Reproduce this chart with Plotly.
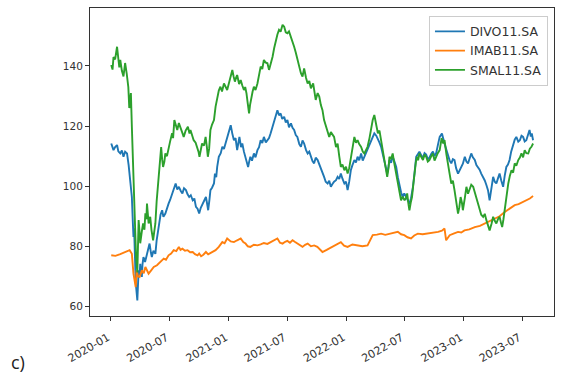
import plotly.graph_objects as go

# DIVO11.SA closing prices
divo_dates = [
    "2020-01-02", "2020-01-06", "2020-01-09", "2020-01-14", "2020-01-20", "2020-01-24", "2020-01-30",
    "2020-02-04", "2020-02-09", "2020-02-14", "2020-02-20", "2020-02-25", "2020-02-28", "2020-03-03",
    "2020-03-06", "2020-03-09", "2020-03-11", "2020-03-13", "2020-03-16", "2020-03-18", "2020-03-23",
    "2020-03-25", "2020-03-27", "2020-03-30", "2020-04-01", "2020-04-03", "2020-04-06", "2020-04-08",
    "2020-04-11", "2020-04-16", "2020-04-22", "2020-04-27", "2020-04-30", "2020-05-04", "2020-05-07",
    "2020-05-12", "2020-05-18", "2020-05-22", "2020-05-28", "2020-06-03", "2020-06-08", "2020-06-12",
    "2020-06-18", "2020-06-23", "2020-06-28", "2020-07-03", "2020-07-09", "2020-07-14", "2020-07-20",
    "2020-07-25", "2020-07-30", "2020-08-05", "2020-08-10", "2020-08-15", "2020-08-21", "2020-08-26",
    "2020-08-31", "2020-09-05", "2020-09-11", "2020-09-16", "2020-09-21", "2020-09-26", "2020-10-01",
    "2020-10-06", "2020-10-12", "2020-10-17", "2020-10-22", "2020-10-26", "2020-10-29", "2020-11-02",
    "2020-11-05", "2020-11-10", "2020-11-16", "2020-11-19", "2020-11-23", "2020-11-26", "2020-12-01",
    "2020-12-07", "2020-12-12", "2020-12-17", "2020-12-22", "2020-12-28", "2021-01-01", "2021-01-07",
    "2021-01-12", "2021-01-17", "2021-01-22", "2021-01-27", "2021-01-31", "2021-02-03", "2021-02-08",
    "2021-02-12", "2021-02-17", "2021-02-22", "2021-02-26", "2021-03-02", "2021-03-05", "2021-03-09",
    "2021-03-14", "2021-03-20", "2021-03-25", "2021-03-31", "2021-04-05", "2021-04-10", "2021-04-15",
    "2021-04-20", "2021-04-26", "2021-05-01", "2021-05-06", "2021-05-11", "2021-05-16", "2021-05-21",
    "2021-05-26", "2021-06-01", "2021-06-06", "2021-06-11", "2021-06-16", "2021-06-22", "2021-06-27",
    "2021-07-02", "2021-07-07", "2021-07-13", "2021-07-18", "2021-07-23", "2021-07-28", "2021-08-02",
    "2021-08-08", "2021-08-13", "2021-08-18", "2021-08-23", "2021-08-29", "2021-09-03", "2021-09-08",
    "2021-09-13", "2021-09-18", "2021-09-23", "2021-09-28", "2021-10-04", "2021-10-09", "2021-10-14",
    "2021-10-19", "2021-10-24", "2021-10-29", "2021-11-04", "2021-11-09", "2021-11-14", "2021-11-19",
    "2021-11-24", "2021-11-30", "2021-12-05", "2021-12-10", "2021-12-15", "2021-12-20", "2021-12-26",
    "2021-12-31", "2022-01-05", "2022-01-10", "2022-01-15", "2022-01-20", "2022-01-26", "2022-01-31",
    "2022-02-05", "2022-02-10", "2022-02-16", "2022-02-21", "2022-02-26", "2022-03-03", "2022-03-08",
    "2022-03-14", "2022-03-19", "2022-03-24", "2022-03-29", "2022-04-04", "2022-04-09", "2022-04-14",
    "2022-04-19", "2022-04-24", "2022-04-29", "2022-05-04", "2022-05-08", "2022-05-12", "2022-05-15",
    "2022-05-20", "2022-05-25", "2022-05-30", "2022-06-05", "2022-06-10", "2022-06-15", "2022-06-20",
    "2022-06-25", "2022-06-30", "2022-07-06", "2022-07-11", "2022-07-16", "2022-07-21", "2022-07-27",
    "2022-08-01", "2022-08-06", "2022-08-11", "2022-08-16", "2022-08-22", "2022-08-27", "2022-09-01",
    "2022-09-06", "2022-09-11", "2022-09-16", "2022-09-22", "2022-09-27", "2022-10-02", "2022-10-07",
    "2022-10-12", "2022-10-18", "2022-10-25", "2022-10-29", "2022-11-02", "2022-11-08", "2022-11-13",
    "2022-11-18", "2022-11-23", "2022-11-28", "2022-12-03", "2022-12-08", "2022-12-14", "2022-12-19",
    "2022-12-24", "2022-12-29", "2023-01-04", "2023-01-09", "2023-01-14", "2023-01-19", "2023-01-24",
    "2023-01-29", "2023-02-04", "2023-02-09", "2023-02-14", "2023-02-19", "2023-02-24", "2023-03-02",
    "2023-03-07", "2023-03-12", "2023-03-17", "2023-03-22", "2023-03-28", "2023-04-02", "2023-04-07",
    "2023-04-12", "2023-04-17", "2023-04-22", "2023-04-27", "2023-05-03", "2023-05-08", "2023-05-13",
    "2023-05-18", "2023-05-23", "2023-05-28", "2023-06-03", "2023-06-08", "2023-06-13", "2023-06-19",
    "2023-06-24", "2023-06-29", "2023-07-04", "2023-07-09", "2023-07-14", "2023-07-19", "2023-07-24",
    "2023-07-28", "2023-07-31", "2023-08-04",
]
divo_values = [
    114.2, 112.8, 112.0, 113.0, 113.7, 111.6, 110.9,
    111.9, 109.8, 111.5, 110.9, 107.0, 103.1, 100.5,
    96.4, 88.0, 83.1, 86.0, 74.2, 68.0, 62.0,
    68.5, 72.0, 70.5, 74.2, 71.5, 69.8, 74.0,
    76.4, 74.8, 77.5, 79.0, 80.9, 78.0, 76.4,
    78.5, 77.5, 82.0, 86.4, 90.5, 92.0, 89.8,
    90.9, 93.0, 94.2, 95.5, 97.6, 99.0, 100.9,
    98.9, 99.8, 98.4, 97.6, 99.3, 98.7, 97.3,
    96.4, 97.0, 95.3, 95.9, 93.1, 92.5, 90.9,
    92.8, 94.2, 95.0, 96.4, 94.0, 92.0, 95.5,
    98.7, 99.5, 100.9, 104.2, 103.0, 106.4, 109.8,
    111.0, 113.1, 112.4, 114.2, 116.0, 117.6, 120.3,
    117.5, 115.3, 116.0, 112.0, 114.5, 116.4, 113.0,
    114.2, 111.5, 109.8, 107.8, 106.4, 108.0, 109.8,
    108.5, 110.9, 109.6, 112.0, 113.0, 115.3, 114.4,
    116.4, 114.6, 115.3, 116.0, 117.6, 119.5, 120.9,
    123.0, 125.3, 123.6, 124.2, 122.4, 123.1, 121.2,
    122.0, 119.6, 120.9, 119.4, 118.7, 117.0, 116.4,
    114.0, 113.1, 115.2, 114.2, 112.0, 110.9, 111.5,
    109.8, 108.4, 107.6, 109.5, 108.7, 107.3, 106.4,
    104.5, 103.1, 101.5, 100.9, 101.8, 99.8, 100.7,
    101.5, 102.0, 103.1, 102.4, 104.2, 102.5, 100.9,
    101.5, 98.7, 101.5, 105.3, 107.0, 108.7, 107.9,
    109.8, 108.6, 110.9, 108.5, 109.8, 110.8, 112.0,
    113.5, 115.3, 116.5, 117.6, 116.8, 115.3, 114.5,
    113.1, 111.0, 108.7, 106.2, 104.2, 106.5, 108.7,
    107.8, 109.8, 108.4, 106.4, 103.0, 99.8, 98.0,
    96.4, 97.6, 96.4, 95.5, 94.2, 96.0, 99.8,
    104.5, 109.8, 110.6, 111.5, 110.2, 109.5, 111.0,
    110.5, 109.0, 109.5, 110.8, 111.5, 110.0, 111.0,
    113.5, 116.4, 117.5, 115.5, 114.2, 112.0, 109.8,
    108.5, 107.6, 109.0, 108.7, 106.0, 104.2, 105.5,
    106.4, 107.5, 109.8, 108.2, 107.6, 109.5, 110.9,
    109.6, 108.7, 107.0, 106.4, 105.5, 104.2, 103.0,
    101.9, 100.4, 98.7, 95.3, 99.5, 103.1, 101.5,
    100.9, 102.6, 104.2, 102.0, 99.8, 103.5, 106.4,
    107.2, 108.7, 111.5, 114.2, 115.5, 116.4, 114.8,
    115.3, 116.8, 116.4, 114.9, 115.3, 117.0, 118.7,
    116.5, 117.6, 115.3,
]

# IMAB11.SA closing prices
imab_dates = [
    "2020-01-02", "2020-01-15", "2020-01-30", "2020-02-14", "2020-02-28", "2020-03-06", "2020-03-11",
    "2020-03-18", "2020-03-21", "2020-03-25", "2020-03-30", "2020-04-06", "2020-04-12", "2020-04-17",
    "2020-04-27", "2020-05-05", "2020-05-13", "2020-05-23", "2020-06-03", "2020-06-13", "2020-06-20",
    "2020-06-28", "2020-07-06", "2020-07-14", "2020-07-22", "2020-07-30", "2020-08-04", "2020-08-10",
    "2020-08-18", "2020-08-26", "2020-09-03", "2020-09-11", "2020-09-18", "2020-09-26", "2020-10-01",
    "2020-10-07", "2020-10-14", "2020-10-22", "2020-10-29", "2020-11-05", "2020-11-13", "2020-11-21",
    "2020-12-01", "2020-12-12", "2020-12-19", "2020-12-27", "2021-01-07", "2021-01-17", "2021-01-27",
    "2021-02-07", "2021-02-15", "2021-02-22", "2021-03-01", "2021-03-09", "2021-03-20", "2021-03-31",
    "2021-04-10", "2021-04-20", "2021-05-01", "2021-05-11", "2021-05-22", "2021-06-01", "2021-06-09",
    "2021-06-17", "2021-06-25", "2021-07-02", "2021-07-10", "2021-07-18", "2021-07-26", "2021-08-02",
    "2021-08-10", "2021-08-18", "2021-08-26", "2021-09-03", "2021-09-13", "2021-09-23", "2021-10-03",
    "2021-10-19", "2021-11-01", "2021-11-14", "2021-11-30", "2021-12-15", "2021-12-25", "2022-01-05",
    "2022-01-20", "2022-02-05", "2022-02-20", "2022-03-08", "2022-03-16", "2022-03-24", "2022-04-06",
    "2022-04-19", "2022-05-02", "2022-05-15", "2022-05-28", "2022-06-10", "2022-06-20", "2022-06-30",
    "2022-07-10", "2022-07-21", "2022-07-31", "2022-08-11", "2022-08-26", "2022-09-11", "2022-09-27",
    "2022-10-13", "2022-10-25", "2022-11-02", "2022-11-07", "2022-11-18", "2022-11-30", "2022-12-14",
    "2022-12-24", "2023-01-03", "2023-01-18", "2023-02-04", "2023-02-20", "2023-03-07", "2023-03-22",
    "2023-04-07", "2023-04-22", "2023-05-08", "2023-05-24", "2023-06-08", "2023-06-20", "2023-07-04",
    "2023-07-16", "2023-07-25", "2023-08-04",
]
imab_values = [
    77.0, 76.8, 77.4, 78.0, 78.7, 77.5, 70.9,
    66.4, 72.0, 70.0, 69.8, 72.0, 71.0, 73.1,
    70.9, 72.0, 73.1, 73.7, 74.8, 75.9, 75.5,
    77.0, 77.6, 78.7, 78.4, 79.8, 78.8, 79.2,
    78.5, 78.7, 78.0, 78.1, 77.4, 77.0, 77.6,
    76.7, 77.2, 78.1, 77.3, 77.8, 78.2, 78.7,
    79.8, 81.4, 81.0, 82.6, 81.6, 81.4, 82.0,
    82.6, 81.4, 80.9, 80.0, 79.8, 80.5, 80.3,
    80.6, 81.1, 80.8, 81.4, 81.8, 82.6, 81.2,
    80.9, 81.5, 81.8, 81.2, 82.0, 81.4, 80.9,
    80.4, 79.8, 80.5, 80.9, 80.0, 80.3, 79.8,
    78.1, 78.8, 79.6, 80.5, 81.4, 80.2, 79.8,
    80.6, 80.3, 80.0, 80.3, 82.0, 83.7, 83.9,
    84.2, 83.8, 84.2, 84.5, 84.8, 84.0, 83.7,
    83.0, 82.6, 83.6, 84.2, 84.0, 84.2, 84.6,
    84.8, 85.2, 85.9, 82.0, 83.7, 84.2, 84.8,
    84.6, 85.3, 85.6, 86.4, 86.8, 87.6, 88.2,
    89.2, 90.0, 91.4, 92.6, 93.7, 94.0, 94.8,
    95.3, 95.9, 96.7,
]

# SMAL11.SA closing prices
smal_dates = [
    "2020-01-02", "2020-01-06", "2020-01-09", "2020-01-14", "2020-01-20", "2020-01-22", "2020-01-24",
    "2020-01-27", "2020-01-30", "2020-02-04", "2020-02-09", "2020-02-12", "2020-02-14", "2020-02-19",
    "2020-02-24", "2020-02-27", "2020-03-03", "2020-03-06", "2020-03-09", "2020-03-11", "2020-03-13",
    "2020-03-16", "2020-03-19", "2020-03-23", "2020-03-25", "2020-03-27", "2020-03-30", "2020-04-01",
    "2020-04-06", "2020-04-10", "2020-04-14", "2020-04-17", "2020-04-20", "2020-04-22", "2020-04-27",
    "2020-05-02", "2020-05-06", "2020-05-11", "2020-05-14", "2020-05-18", "2020-05-22", "2020-05-28",
    "2020-06-01", "2020-06-05", "2020-06-08", "2020-06-11", "2020-06-15", "2020-06-18", "2020-06-23",
    "2020-06-28", "2020-07-03", "2020-07-09", "2020-07-12", "2020-07-16", "2020-07-21", "2020-07-25",
    "2020-07-30", "2020-08-04", "2020-08-09", "2020-08-14", "2020-08-20", "2020-08-27", "2020-09-01",
    "2020-09-04", "2020-09-09", "2020-09-14", "2020-09-20", "2020-09-25", "2020-09-29", "2020-10-02",
    "2020-10-06", "2020-10-10", "2020-10-16", "2020-10-21", "2020-10-25", "2020-10-28", "2020-11-01",
    "2020-11-05", "2020-11-10", "2020-11-16", "2020-11-21", "2020-11-26", "2020-12-01", "2020-12-06",
    "2020-12-11", "2020-12-17", "2020-12-22", "2020-12-27", "2021-01-02", "2021-01-07", "2021-01-12",
    "2021-01-16", "2021-01-20", "2021-01-24", "2021-01-27", "2021-02-02", "2021-02-07", "2021-02-12",
    "2021-02-17", "2021-02-21", "2021-02-25", "2021-03-01", "2021-03-05", "2021-03-08", "2021-03-12",
    "2021-03-16", "2021-03-20", "2021-03-25", "2021-03-31", "2021-04-05", "2021-04-10", "2021-04-15",
    "2021-04-20", "2021-04-25", "2021-05-01", "2021-05-06", "2021-05-11", "2021-05-17", "2021-05-22",
    "2021-05-27", "2021-06-01", "2021-06-06", "2021-06-11", "2021-06-17", "2021-06-22", "2021-06-27",
    "2021-07-02", "2021-07-07", "2021-07-13", "2021-07-18", "2021-07-23", "2021-07-28", "2021-08-02",
    "2021-08-08", "2021-08-13", "2021-08-18", "2021-08-23", "2021-08-29", "2021-09-03", "2021-09-08",
    "2021-09-13", "2021-09-20", "2021-09-24", "2021-09-28", "2021-10-04", "2021-10-09", "2021-10-14",
    "2021-10-19", "2021-10-24", "2021-10-30", "2021-11-04", "2021-11-09", "2021-11-14", "2021-11-19",
    "2021-11-24", "2021-11-30", "2021-12-05", "2021-12-10", "2021-12-15", "2021-12-20", "2021-12-26",
    "2021-12-31", "2022-01-05", "2022-01-10", "2022-01-15", "2022-01-20", "2022-01-26", "2022-01-31",
    "2022-02-05", "2022-02-10", "2022-02-16", "2022-02-21", "2022-02-26", "2022-03-03", "2022-03-08",
    "2022-03-14", "2022-03-19", "2022-03-24", "2022-03-29", "2022-04-04", "2022-04-09", "2022-04-14",
    "2022-04-19", "2022-04-24", "2022-04-29", "2022-05-04", "2022-05-08", "2022-05-12", "2022-05-15",
    "2022-05-20", "2022-05-25", "2022-05-30", "2022-06-05", "2022-06-10", "2022-06-15", "2022-06-20",
    "2022-06-25", "2022-07-01", "2022-07-05", "2022-07-09", "2022-07-13", "2022-07-16", "2022-07-20",
    "2022-07-24", "2022-07-28", "2022-08-01", "2022-08-05", "2022-08-09", "2022-08-12", "2022-08-16",
    "2022-08-22", "2022-08-27", "2022-09-01", "2022-09-06", "2022-09-11", "2022-09-16", "2022-09-22",
    "2022-09-27", "2022-10-02", "2022-10-07", "2022-10-12", "2022-10-18", "2022-10-24", "2022-10-29",
    "2022-11-02", "2022-11-08", "2022-11-13", "2022-11-18", "2022-11-23", "2022-11-28", "2022-12-03",
    "2022-12-08", "2022-12-14", "2022-12-18", "2022-12-22", "2022-12-26", "2022-12-29", "2023-01-04",
    "2023-01-09", "2023-01-14", "2023-01-19", "2023-01-24", "2023-01-30", "2023-02-04", "2023-02-09",
    "2023-02-14", "2023-02-19", "2023-02-24", "2023-03-02", "2023-03-07", "2023-03-12", "2023-03-17",
    "2023-03-22", "2023-03-28", "2023-04-02", "2023-04-07", "2023-04-12", "2023-04-17", "2023-04-22",
    "2023-04-26", "2023-04-30", "2023-05-04", "2023-05-08", "2023-05-13", "2023-05-19", "2023-05-24",
    "2023-05-29", "2023-06-03", "2023-06-08", "2023-06-13", "2023-06-19", "2023-06-24", "2023-06-29",
    "2023-07-04", "2023-07-09", "2023-07-14", "2023-07-20", "2023-07-25", "2023-07-30", "2023-08-04",
]
smal_values = [
    140.3, 138.8, 143.0, 142.2, 146.4, 144.0, 141.5,
    139.5, 142.0, 138.4, 136.5, 139.0, 141.0, 137.5,
    133.0, 126.0, 131.0, 119.8, 108.5, 103.0, 98.0,
    86.5, 76.5, 71.3, 80.0, 88.7, 84.5, 81.0,
    85.0, 87.6, 85.5, 91.0, 89.0, 94.2, 87.6,
    89.8, 85.4, 82.0, 84.5, 87.6, 95.0, 103.0,
    108.0, 113.0, 109.0, 106.4, 108.2, 110.9, 110.0,
    113.0, 115.0, 117.6, 116.0, 122.0, 120.5, 118.7,
    121.0, 119.8, 118.0, 116.4, 118.5, 119.8, 117.5,
    118.7, 117.0, 115.3, 114.5, 113.0, 111.5, 109.8,
    112.5, 114.2, 113.5, 116.4, 113.0, 109.8, 112.5,
    118.7, 120.5, 122.0, 126.5, 129.8, 131.8, 133.1,
    131.5, 134.2, 133.2, 132.0, 134.5, 136.4, 138.7,
    136.5, 134.8, 136.2, 137.0, 134.0, 135.3, 133.5,
    132.0, 133.0, 130.9, 127.5, 124.2, 127.0, 129.8,
    131.5, 133.1, 132.0, 134.2, 137.0, 139.8, 139.0,
    142.0, 141.2, 140.9, 138.7, 140.5, 143.1, 146.0,
    148.7, 150.5, 152.0, 151.4, 153.7, 153.1, 151.2,
    150.9, 151.5, 149.8, 148.0, 146.4, 144.5, 142.0,
    139.5, 137.6, 136.5, 139.2, 136.0, 134.2, 135.0,
    132.6, 134.2, 131.0, 128.7, 131.0, 129.8, 127.0,
    125.3, 122.0, 119.8, 117.5, 116.4, 118.0, 117.2,
    116.4, 113.0, 114.2, 110.0, 106.4, 107.2, 105.3,
    106.5, 104.2, 106.0, 109.8, 113.0, 116.4, 114.5,
    115.3, 114.0, 113.1, 111.5, 110.9, 112.0, 113.1,
    116.0, 119.8, 122.0, 123.7, 120.5, 117.6, 118.5,
    115.3, 111.0, 107.6, 105.0, 103.1, 106.0, 109.8,
    109.0, 110.9, 107.6, 104.0, 100.9, 98.0, 95.3,
    96.5, 95.3, 96.0, 97.6, 94.0, 92.0, 94.5,
    96.4, 100.5, 105.3, 108.0, 109.8, 108.6, 110.9,
    109.6, 108.7, 110.5, 109.8, 108.2, 108.7, 110.0,
    110.9, 108.5, 109.8, 111.0, 112.0, 116.0, 114.2,
    115.3, 110.5, 106.4, 104.0, 100.9, 101.8, 98.7,
    95.5, 90.9, 93.0, 96.4, 94.5, 92.0, 96.0,
    99.8, 97.5, 98.7, 100.5, 99.8, 98.0, 96.4,
    94.0, 92.0, 90.5, 89.8, 90.8, 88.7, 87.0,
    85.3, 87.5, 89.8, 88.5, 87.6, 89.0, 89.8,
    88.0, 86.4, 89.0, 92.0, 97.0, 100.9, 103.5,
    105.3, 104.5, 107.6, 106.8, 108.7, 109.5, 110.9,
    109.6, 112.0, 111.0, 110.9, 112.5, 113.1, 114.2,
]

tick_dates = ["2020-01-01", "2020-07-01", "2021-01-01", "2021-07-01",
              "2022-01-01", "2022-07-01", "2023-01-01", "2023-07-01"]
tick_labels = ["2020-01", "2020-07", "2021-01", "2021-07",
               "2022-01", "2022-07", "2023-01", "2023-07"]

series = [
    ("DIVO11.SA", divo_dates, divo_values, "#1f77b4"),
    ("IMAB11.SA", imab_dates, imab_values, "#ff7f0e"),
    ("SMAL11.SA", smal_dates, smal_values, "#2ca02c"),
]

fig = go.Figure()
for name, dates, values, color in series:
    fig.add_trace(go.Scatter(
        x=dates, y=values, mode="lines", name=name,
        line=dict(color=color, width=1.9),
    ))

tick_font_x = dict(family="DejaVu Sans", size=11, color="#333333")
tick_font_y = dict(family="DejaVu Sans", size=10.5, color="#333333")

fig.update_layout(
    width=576, height=377,
    margin=dict(l=90, r=22, t=8, b=61),
    paper_bgcolor="white", plot_bgcolor="white",
    showlegend=True,
    legend=dict(
        x=0.987, y=0.975, xanchor="right", yanchor="top",
        bgcolor="rgba(255,255,255,0.9)", bordercolor="#cccccc", borderwidth=1,
        font=dict(family="DejaVu Sans", size=12.5, color="#333333"),
        tracegroupgap=0, itemwidth=30,
    ),
    xaxis=dict(
        type="date", range=["2019-10-28", "2023-10-08"],
        tickvals=tick_dates, ticktext=tick_labels, tickangle=-30,
        showgrid=False, zeroline=False,
        showline=True, mirror=True, linecolor="#333333", linewidth=1,
        ticks="outside", ticklen=4, tickcolor="#333333",
        tickfont=tick_font_x, ticklabelstandoff=6, ticklabelshift=-3,
    ),
    yaxis=dict(
        range=[56.8, 159.3],
        tickvals=[60, 80, 100, 120, 140],
        showgrid=False, zeroline=False,
        showline=True, mirror=True, linecolor="#333333", linewidth=1,
        ticks="outside", ticklen=4, tickcolor="#333333",
        tickfont=tick_font_y,
    ),
    annotations=[dict(
        text="c)", xref="paper", yref="paper",
        x=-0.175, y=-0.148, xanchor="left", yanchor="middle",
        showarrow=False, font=dict(family="Open Sans", size=18, color="#222222"),
    )],
)

fig.write_html("out.html")
